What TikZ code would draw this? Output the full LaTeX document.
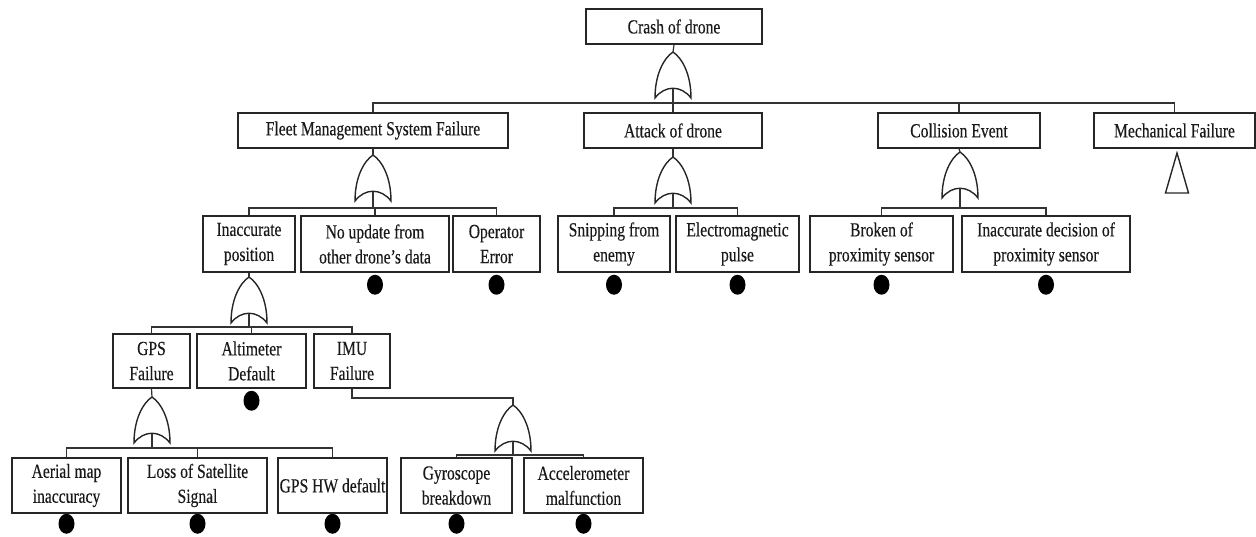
\documentclass[tikz,border=0pt]{standalone}
\usepackage{fontspec}
\setmainfont{Liberation Serif}[FakeStretch=0.78,FakeBold=0.25]
\usetikzlibrary{shapes.geometric}
\tikzset{
  box/.style={draw=black!85,line width=1.5pt,fill=white,inner sep=0pt,align=center,
    font=\fontsize{20}{25}\selectfont,text=black!90},
  bx/.style 2 args={box,minimum width=#1pt,minimum height=#2pt},
  conn/.style={draw=black!80,line width=1.2pt},
  gateline/.style={draw=black!85,line width=1.4pt,fill=white},
  evdot/.style={ellipse,fill=black,draw=none,minimum width=16pt,minimum height=20pt,inner sep=0pt},
  orgate/.pic={
    \draw[gateline] (0,0) .. controls (9,6) and (18,22) .. (18,46)
      .. controls (8,33) and (-8,33) .. (-18,46)
      .. controls (-18,22) and (-9,6) .. (0,0);
    \coordinate (-top) at (0,0);
    \coordinate (-bot) at (0,37);
  }
}
\begin{document}
\begin{tikzpicture}[x=1pt,y=-1pt]
\useasboundingbox (0,0) rectangle (1256,537);

% level 0
\node[bx={176}{35}] (crash) at (674,26.5) {Crash of drone};
% level 1
\node[bx={270}{35}] (fleet) at (373,130.5) {Fleet Management System Failure};
\node[bx={178}{35}] (attack) at (673,130.5) {Attack of drone};
\node[bx={162}{35}] (collision) at (959,130.5) {Collision Event};
\node[bx={161}{35}] (mech) at (1174.5,130.5) {Mechanical Failure};
% level 2
\node[bx={92}{56}] (inacc) at (249,244) {Inaccurate\\position};
\node[bx={148}{56}] (noupd) at (375,244) {No update from\\other drone’s data};
\node[bx={87}{56}] (oper) at (496.5,244) {Operator\\Error};
\node[bx={112}{56}] (snip) at (614,244) {Snipping from\\enemy};
\node[bx={123}{56}] (emp) at (737.5,244) {Electromagnetic\\pulse};
\node[bx={143}{56}] (broken) at (881.5,244) {Broken of\\proximity sensor};
\node[bx={168}{56}] (inaccdec) at (1046,244) {Inaccurate decision of\\proximity sensor};
% level 3
\node[bx={77}{54}] (gps) at (151.5,361) {GPS\\Failure};
\node[bx={109}{54}] (alt) at (251.5,361) {Altimeter\\Default};
\node[bx={76}{54}] (imu) at (352,361) {IMU\\Failure};
% level 4
\node[bx={109}{55}] (aerial) at (66.5,485.5) {Aerial map\\inaccuracy};
\node[bx={139}{55}] (loss) at (197.5,485.5) {Loss of Satellite\\Signal};
\node[bx={109}{55}] (gpshw) at (332.5,485.5) {GPS HW default};
\node[bx={111}{55}] (gyro) at (456.5,485.5) {Gyroscope\\breakdown};
\node[bx={119}{55}] (accel) at (583.5,485.5) {Accelerometer\\malfunction};

% gates
\pic (g0) at (673,52) {orgate};
\pic (g1) at (373,155) {orgate};
\pic (g2) at (673,157) {orgate};
\pic (g3) at (960,152) {orgate};
\pic (g4) at (249,277) {orgate};
\pic (g5) at (152,397) {orgate};
\pic (g6) at (513,405) {orgate};

% buses
\coordinate (b0) at (673,103);
\coordinate (b1) at (373,208);
\coordinate (b2) at (673,208);
\coordinate (b3) at (960,208);
\coordinate (b4) at (249,327);
\coordinate (b5) at (152,448);
\coordinate (b6) at (513,455);

% top gate
\draw[conn] (crash.south) -- (g0-top);
\draw[conn] (g0-bot) -- (attack.north);
\draw[conn] (fleet.north) |- (b0) -| (mech.north);
\draw[conn] (collision.north) -- (collision.north |- b0);
% fleet gate
\draw[conn] (fleet.south) -- (g1-top);
\draw[conn] (g1-bot) -- (b1);
\draw[conn] (inacc.north) |- (b1) -| (oper.north);
\draw[conn] (noupd.north) -- (noupd.north |- b1);
% attack gate
\draw[conn] (attack.south) -- (g2-top);
\draw[conn] (g2-bot) -- (b2);
\draw[conn] (snip.north) |- (b2) -| (emp.north);
% collision gate
\draw[conn] (collision.south) -- (g3-top);
\draw[conn] (g3-bot) -- (b3);
\draw[conn] (broken.north) |- (b3) -| (inaccdec.north);
% inaccurate position gate
\draw[conn] (inacc.south) -- (g4-top);
\draw[conn] (g4-bot) -- (b4);
\draw[conn] (gps.north) |- (b4) -| (imu.north);
\draw[conn] (alt.north) -- (alt.north |- b4);
% gps gate
\draw[conn] (gps.south) -- (g5-top);
\draw[conn] (g5-bot) -- (b5);
\draw[conn] (aerial.north) |- (b5) -| (gpshw.north);
\draw[conn] (loss.north) -- (loss.north |- b5);
% imu gate
\coordinate (imuturn) at (352,398);
\draw[conn] (imu.south) -- (imuturn) -| (g6-top);
\draw[conn] (g6-bot) -- (b6);
\draw[conn] (gyro.north) |- (b6) -| (accel.north);

% undeveloped event triangle
\coordinate (triA) at (1177,153);
\draw[gateline,fill=none] (triA) -- ++(11.5,40) -- ++(-23,0) -- cycle;

% basic event dots
\node[evdot] (d1) at ([yshift=-12pt]noupd.south) {};
\node[evdot] (d2) at ([yshift=-12pt]oper.south) {};
\node[evdot] (d3) at ([yshift=-12pt]snip.south) {};
\node[evdot] (d4) at ([yshift=-12pt]emp.south) {};
\node[evdot] (d5) at ([yshift=-12pt]broken.south) {};
\node[evdot] (d6) at ([yshift=-12pt]inaccdec.south) {};
\node[evdot] (d7) at ([yshift=-12pt]alt.south) {};
\node[evdot] (d8) at ([yshift=-10pt]aerial.south) {};
\node[evdot] (d9) at ([yshift=-10pt]loss.south) {};
\node[evdot] (d10) at ([yshift=-10pt]gpshw.south) {};
\node[evdot] (d11) at ([yshift=-10pt]gyro.south) {};
\node[evdot] (d12) at ([yshift=-10pt]accel.south) {};
\end{tikzpicture}
\end{document}
